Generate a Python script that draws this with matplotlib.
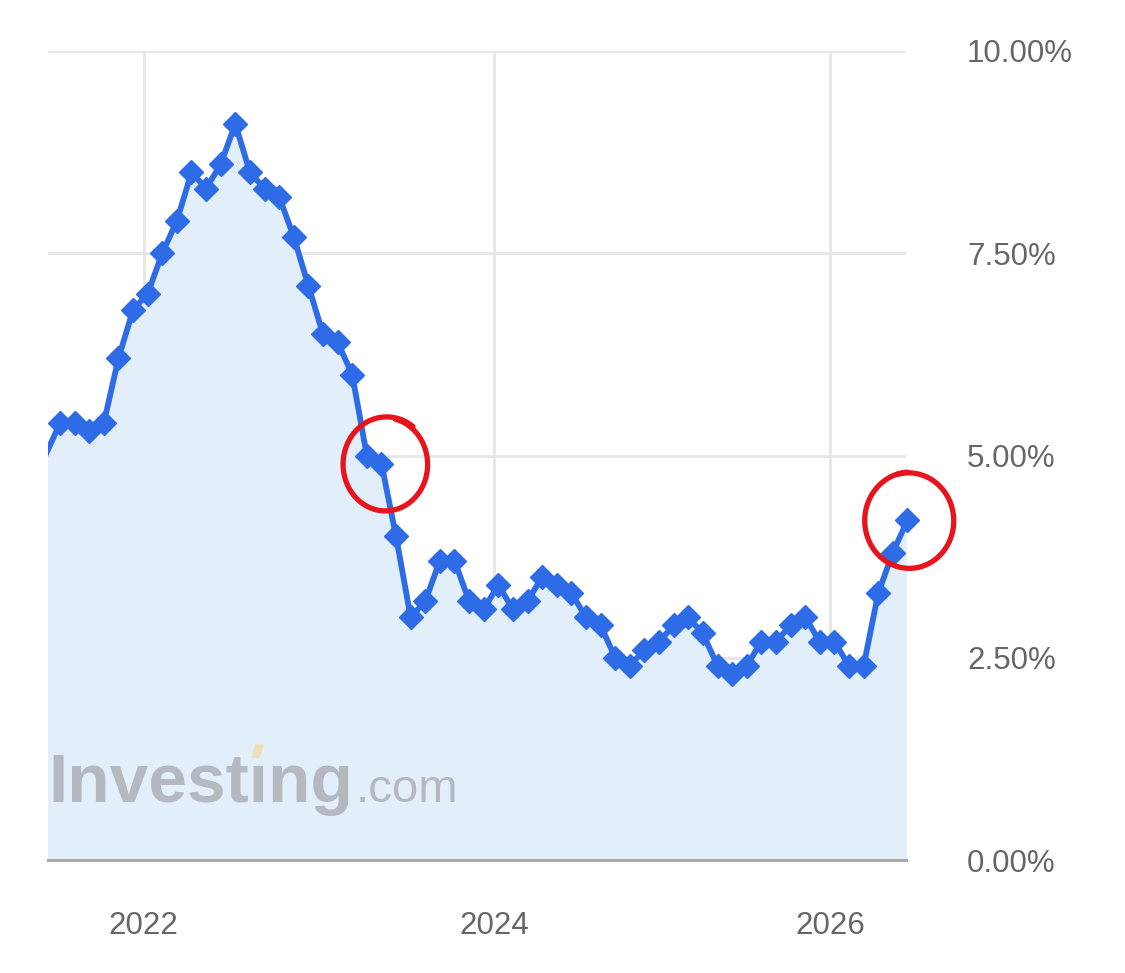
import numpy as np
import pandas as pd
import matplotlib
matplotlib.use('Agg')
import matplotlib.pyplot as plt
from matplotlib.lines import Line2D
from matplotlib.patches import Polygon
from matplotlib.transforms import IdentityTransform

# CPI y/y (%), one value per monthly release
cpi = [5.0, 5.4, 5.4, 5.3, 5.4, 6.2, 6.8, 7.0, 7.5, 7.9,
       8.5, 8.3, 8.6, 9.1, 8.5, 8.3, 8.2, 7.7, 7.1, 6.5,
       6.4, 6.0, 5.0, 4.9, 4.0, 3.0, 3.2, 3.7, 3.7, 3.2,
       3.1, 3.4, 3.1, 3.2, 3.5, 3.4, 3.3, 3.0, 2.9, 2.5,
       2.4, 2.6, 2.7, 2.9, 3.0, 2.8, 2.4, 2.3, 2.4, 2.7,
       2.7, 2.9, 3.0, 2.7, 2.7, 2.4, 2.4, 3.3, 3.8, 4.2]
# release month of each value (no release in Nov 2025)
release = (list(pd.period_range('2021-06', '2025-10', freq='M'))
           + list(pd.period_range('2025-12', '2026-06', freq='M')))
year_ticks = [2022, 2024, 2026]
y_ticks = [0, 2.5, 5, 7.5, 10]
circled = [23, 59]

x = np.arange(len(cpi))
tick_pos = [next(i for i, p in enumerate(release) if p.year == yr and p.month == 1) - 0.28
            for yr in year_ticks]

W, H = 1125, 973
fig = plt.figure(figsize=(W / 100, H / 100), dpi=100)
ax = fig.add_axes([48 / W, 113 / H, 858 / W, 809 / H])

line_color = '#2d6ce6'
ax.fill_between(x, cpi, 0, color='#e3eefb', lw=0, zorder=1)
ax.plot(x, cpi, color=line_color, lw=4.2, zorder=3)
ax.plot(x[1:], cpi[1:], 'D', color=line_color, ms=12, zorder=4, clip_on=False)

ax.set_xlim(0.18, 58.9)
ax.set_ylim(0, 10)
ax.set_xticks(tick_pos)
ax.set_xticklabels([str(y) for y in year_ticks])
ax.set_yticks(y_ticks)
ax.set_yticklabels([f'{v:.2f}%' for v in y_ticks])
ax.yaxis.tick_right()
ax.tick_params(axis='y', length=0, pad=44, labelsize=22.5, labelcolor='#666666')
ax.tick_params(axis='x', length=0, pad=37, labelsize=22.5, labelcolor='#666666')
for lab in ax.get_xticklabels() + ax.get_yticklabels():
    lab.set_family('Liberation Sans')

ax.set_axisbelow(True)
ax.grid(color='#e6e6e6', lw=2)
for side in ['top', 'left', 'right']:
    ax.spines[side].set_visible(False)
ax.spines['bottom'].set_color('#a9a9a9')
ax.spines['bottom'].set_linewidth(2.2)
ax.spines['bottom'].set_zorder(5)

# watermark
ax.text(0, 0.0717, 'Investıng', transform=ax.transAxes, fontsize=50, fontweight='heavy',
        color='#b4b9c1', family='Liberation Sans', va='baseline', ha='left', zorder=2)
ax.text(0.358, 0.0717, '.com', transform=ax.transAxes, fontsize=34,
        color='#b4b9c1', family='Liberation Sans', va='baseline', ha='left', zorder=2)
fig.add_artist(Polygon([(252, H - 757), (256, H - 745), (263, H - 745), (259, H - 757)],
                       closed=True, color='#eedfb5', transform=IdentityTransform(), zorder=6))


# hand drawn red circles
def scribble(i, dx, dy, rx, ry, t0, sweep, r0, r1):
    cx, cy = ax.transData.transform((x[i], cpi[i]))
    t = np.linspace(0, 1, 300)
    ang = np.radians(t0 - sweep * t)
    r = r0 + (r1 - r0) * t - 0.05 * np.sin(np.pi * t)
    xs = cx + dx + rx * r * np.cos(ang)
    ys = cy + dy + ry * r * np.sin(ang)
    fig.add_artist(Line2D(xs, ys, color='#e8141c', lw=3.8, solid_capstyle='round',
                          transform=IdentityTransform(), zorder=10))


scribble(circled[0], 4, -1.5, 41, 45, 77, 385, 1.05, 1.09)
scribble(circled[1], 2, -1.3, 45, 48, 105, 372, 1.02, 1.03)

fig.savefig('out.png', dpi=100, facecolor='white')
